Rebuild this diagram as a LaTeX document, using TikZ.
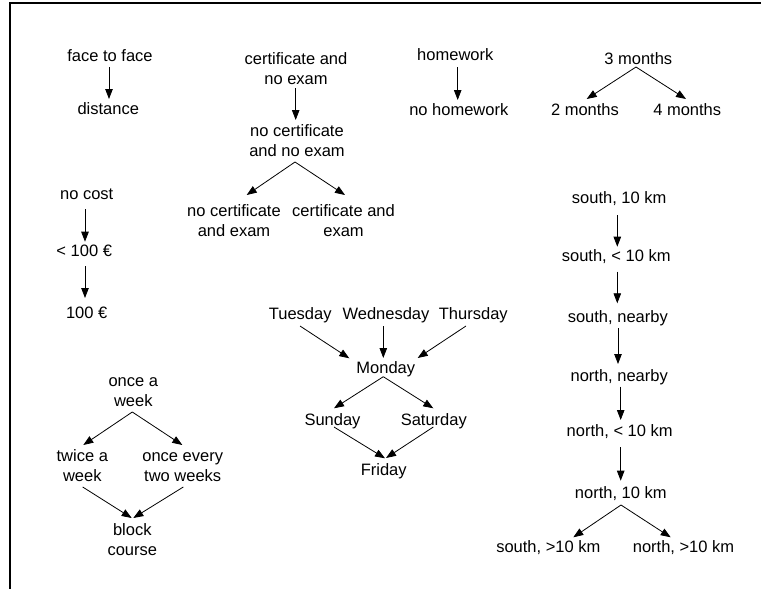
\documentclass[tikz,border=0pt]{standalone}
\usepackage{fontspec}
\setmainfont{Liberation Sans}
\usetikzlibrary{arrows.meta}
\begin{document}
\begin{tikzpicture}[x=1pt,y=-1pt,
  lbl/.style={font=\fontsize{16.5}{20}\selectfont, inner sep=0pt, anchor=base, align=center},
  arr/.style={-{Triangle[length=10pt,width=7.5pt]}, line width=0.8pt},
  frame/.style={line width=2pt}]
\useasboundingbox (0,0) rectangle (761,589);
\fill[white] (0,0) rectangle (761,589);
\draw[frame] (10,589) -- (10,2.5) -- (761,2.5);

% nodes (base = baseline of the last line)
\node[lbl] (ftf)  at (110,61)     {face to face};
\node[lbl] (dist) at (108.3,114.3) {distance};
\node[lbl] (cne)  at (296,84)     {certificate and\\no exam};
\node[lbl] (ncne) at (297,156)    {no certificate\\and no exam};
\node[lbl] (ncae) at (234,236)    {no certificate\\and exam};
\node[lbl] (cae)  at (343.5,236)  {certificate and\\exam};
\node[lbl] (hw)   at (455.3,60.7) {homework};
\node[lbl] (nhw)  at (458.8,115)  {no homework};
\node[lbl] (mthree) at (638.3,64) {3 months};
\node[lbl] (mtwo)   at (585,115)  {2 months};
\node[lbl] (mfour)  at (687.2,115) {4 months};
\node[lbl] (nocost) at (86.7,199.3) {no cost};
\node[lbl] (lt)   at (84.2,256)   {< 100 €};
\node[lbl] (hund) at (86.7,318.3) {100 €};
\node[lbl] (oaw)  at (133.3,406)  {once a\\week};
\node[lbl] (twa)  at (82.3,481.7) {twice a\\week};
\node[lbl] (oetw) at (182.7,481.7) {once every\\two weeks};
\node[lbl] (blk)  at (132.3,555)  {block\\course};
\node[lbl] (tue)  at (300.2,319.3) {Tuesday};
\node[lbl] (wed)  at (386,319.3)  {Wednesday};
\node[lbl] (thu)  at (473.3,319.3) {Thursday};
\node[lbl] (mon)  at (385.8,373.3) {Monday};
\node[lbl] (sun)  at (332.5,425)  {Sunday};
\node[lbl] (sat)  at (433.8,425)  {Saturday};
\node[lbl] (fri)  at (383.7,475)  {Friday};
\node[lbl] (sten) at (619.2,203.3) {south, 10 km};
\node[lbl] (slt)  at (616.2,261.7) {south, < 10 km};
\node[lbl] (snb)  at (617.8,322.7) {south, nearby};
\node[lbl] (nnb)  at (619.2,381.7) {north, nearby};
\node[lbl] (nlt)  at (619.7,436.7) {north, < 10 km};
\node[lbl] (nten) at (620.8,498.3) {north, 10 km};
\node[lbl] (sgt)  at (548.3,552.7) {south, >10 km};
\node[lbl] (ngt)  at (683.5,552.7) {north, >10 km};

% connectors
\draw[arr] ([shift={(-1,6)}]ftf.base) -- ([shift={(0.7,-15.3)}]dist.base);
\draw[arr] ([shift={(-0.3,4)}]cne.base) -- ([shift={(-1.3,-36)}]ncne.base);
\draw[arr] ([shift={(-2,6)}]ncne.base) -- ([shift={(12.7,-41)}]ncae.base);
\draw[arr] ([shift={(-2,6)}]ncne.base) -- ([shift={(1.5,-41)}]cae.base);
\draw[arr] ([shift={(2.4,6.3)}]hw.base) -- ([shift={(-1.1,-15)}]nhw.base);
\draw[arr] ([shift={(-2.3,3)}]mthree.base) -- ([shift={(1.7,-16)}]mtwo.base);
\draw[arr] ([shift={(-2.3,3)}]mthree.base) -- ([shift={(-1.2,-16)}]mfour.base);
\draw[arr] ([shift={(-1.7,9.7)}]nocost.base) -- ([shift={(0.8,-14.3)}]lt.base);
\draw[arr] ([shift={(0.8,10)}]lt.base) -- ([shift={(-1.7,-20.3)}]hund.base);
\draw[arr] ([shift={(-1,6)}]oaw.base) -- ([shift={(1,-36.7)}]twa.base);
\draw[arr] ([shift={(-1,6)}]oaw.base) -- ([shift={(-0.4,-36.7)}]oetw.base);
\draw[arr] ([shift={(0.4,5.3)}]twa.base) -- ([shift={(-0.6,-37)}]blk.base);
\draw[arr] ([shift={(0.6,5.3)}]oetw.base) -- ([shift={(1,-37)}]blk.base);
\draw[arr] ([shift={(-0.2,6.7)}]tue.base) -- ([shift={(-36.5,-15)}]mon.base);
\draw[arr] ([shift={(-2.7,6.7)}]wed.base) -- ([shift={(-2.5,-15.3)}]mon.base);
\draw[arr] ([shift={(-7.3,6.7)}]thu.base) -- ([shift={(31.9,-15.3)}]mon.base);
\draw[arr] ([shift={(-2.5,3.4)}]mon.base) -- ([shift={(1.5,-16.7)}]sun.base);
\draw[arr] ([shift={(-2.5,3.4)}]mon.base) -- ([shift={(-0.5,-16.7)}]sat.base);
\draw[arr] ([shift={(1.5,2)}]sun.base) -- ([shift={(1.3,-16.7)}]fri.base);
\draw[arr] ([shift={(-0.5,2)}]sat.base) -- ([shift={(2.3,-17)}]fri.base);
\draw[arr] ([shift={(-1.9,11.7)}]sten.base) -- ([shift={(1.1,-15)}]slt.base);
\draw[arr] ([shift={(1.1,10)}]slt.base) -- ([shift={(-0.5,-19.4)}]snb.base);
\draw[arr] ([shift={(0.2,5.6)}]snb.base) -- ([shift={(-1.2,-17.7)}]nnb.base);
\draw[arr] ([shift={(1.5,5)}]nnb.base) -- ([shift={(1,-16.7)}]nlt.base);
\draw[arr] ([shift={(1,10.6)}]nlt.base) -- ([shift={(-0.1,-17.6)}]nten.base);
\draw[arr] ([shift={(0.2,6.7)}]nten.base) -- ([shift={(25,-15.4)}]sgt.base);
\draw[arr] ([shift={(0.2,6.7)}]nten.base) -- ([shift={(-12.8,-15.4)}]ngt.base);
\end{tikzpicture}
\end{document}
